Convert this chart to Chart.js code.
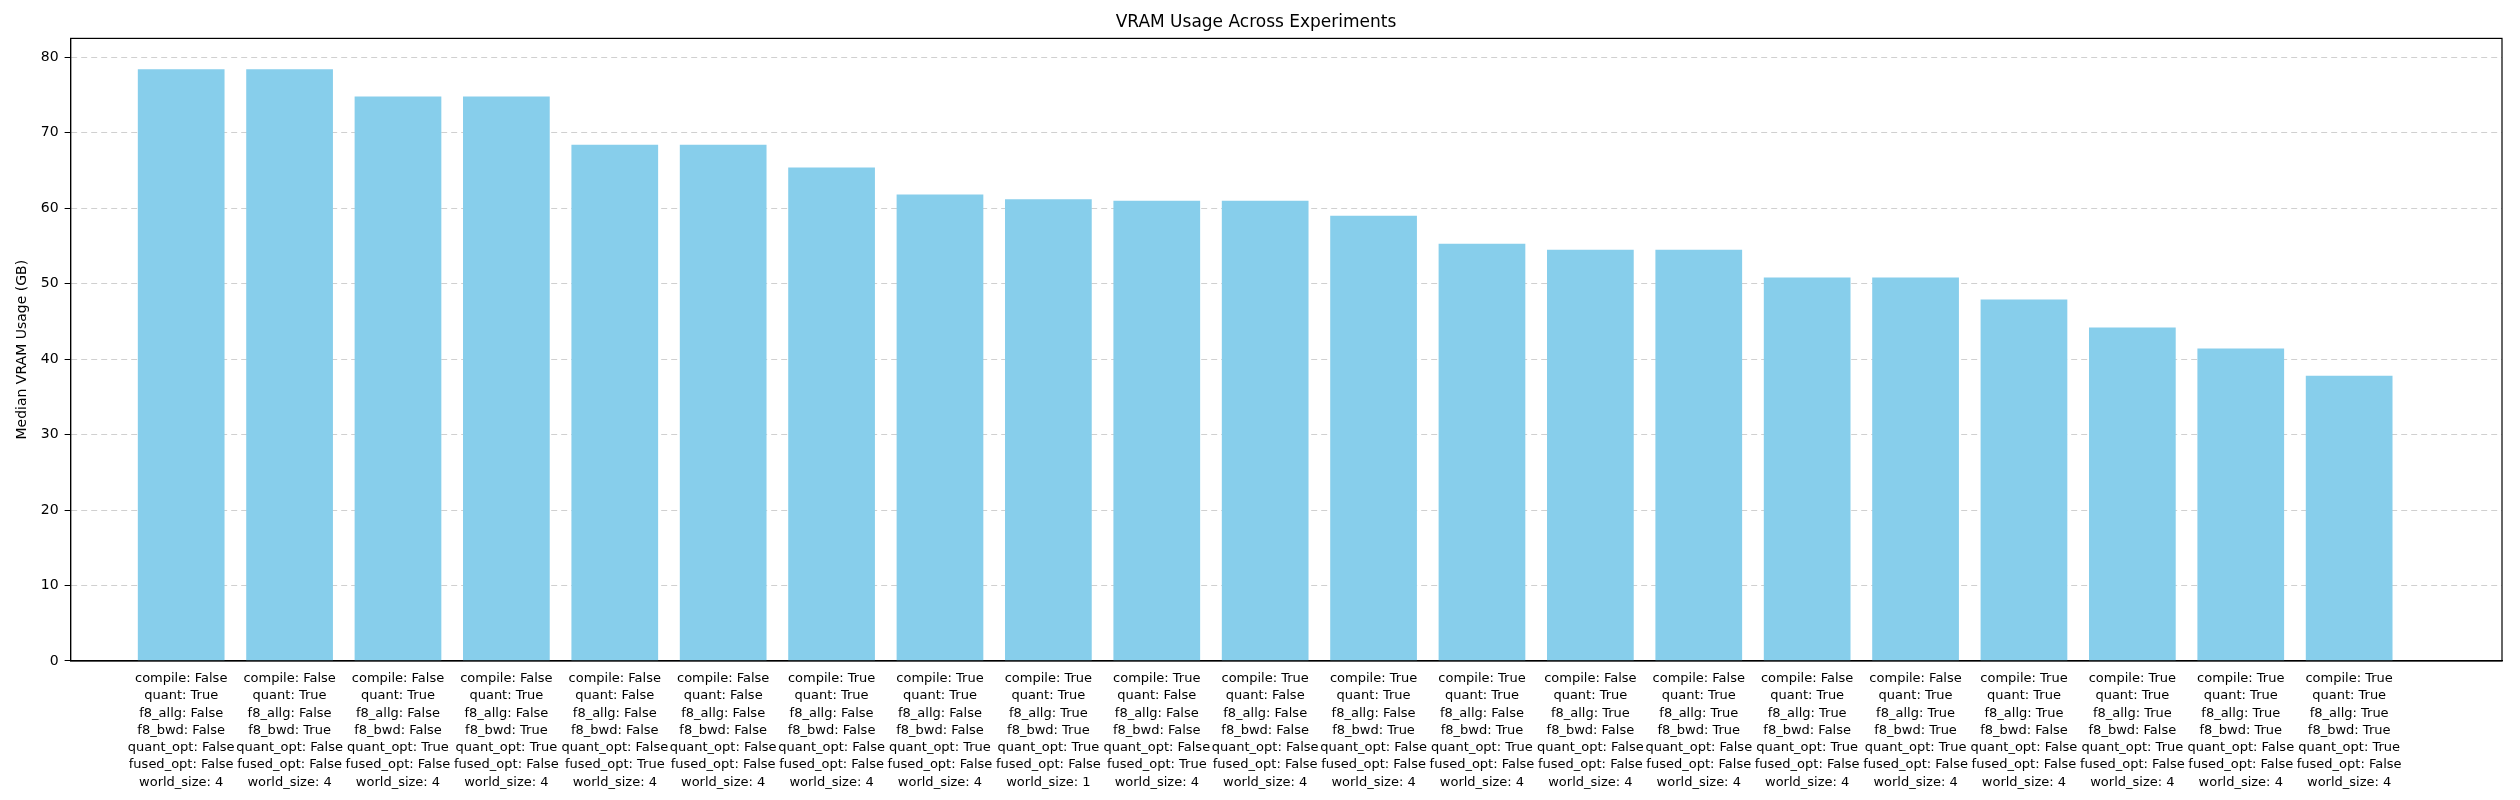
<!DOCTYPE html>
<html><head><meta charset="utf-8">
<script src="https://cdn.jsdelivr.net/npm/chart.js@4/dist/chart.umd.min.js"></script>
<style>html,body{margin:0;padding:0;background:#fff}#w{width:2520px;height:800px}</style>
</head><body><div id="w"><canvas id="c"></canvas></div>
<script>
const compile   = ["False","False","False","False","False","False","True","True","True","True","True","True","True","False","False","False","False","True","True","True","True"];
const quant     = ["True","True","True","True","False","False","True","True","True","False","False","True","True","True","True","True","True","True","True","True","True"];
const f8Allg    = ["False","False","False","False","False","False","False","False","True","False","False","False","False","True","True","True","True","True","True","True","True"];
const f8Bwd     = ["False","True","False","True","False","False","False","False","True","False","False","True","True","False","True","False","True","False","False","True","True"];
const quantOpt  = ["False","False","True","True","False","False","False","True","True","False","False","False","True","False","False","True","True","False","True","False","True"];
const fusedOpt  = ["False","False","False","False","True","False","False","False","False","True","False","False","False","False","False","False","False","False","False","False","False"];
const worldSize = ["4","4","4","4","4","4","4","4","1","4","4","4","4","4","4","4","4","4","4","4","4"];
const vram = [78.4,78.4,74.8,74.8,68.4,68.4,65.4,61.8,61.2,61.0,61.0,59.0,55.3,54.5,54.5,50.8,50.8,47.9,44.2,41.4,37.8];
const yTicks = [0,10,20,30,40,50,60,70,80];

const labels = vram.map((_, i) => [
  "compile: " + compile[i], "quant: " + quant[i], "f8_allg: " + f8Allg[i], "f8_bwd: " + f8Bwd[i],
  "quant_opt: " + quantOpt[i], "fused_opt: " + fusedOpt[i], "world_size: " + worldSize[i]
]);
const F = "'DejaVu Sans', sans-serif";
new Chart(document.getElementById('c'), {
  type: 'bar',
  data: { datasets: [{ data: vram.map((v, i) => ({x: i, y: v})), backgroundColor: '#87CEEB', barPercentage: 0.8, categoryPercentage: 1 }] },
  options: {
    responsive: true, maintainAspectRatio: false, animation: false,
    layout: { padding: { top: 8, right: 18, left: 10, bottom: 6 } },
    plugins: {
      legend: { display: false }, tooltip: { enabled: false },
      title: { display: true, text: 'VRAM Usage Across Experiments', font: { family: F, size: 17, weight: 'normal' }, color: '#000', padding: { top: 4, bottom: 6 } }
    },
    scales: {
      x: {
        type: 'linear', min: -1.02, max: 21.41, offset: false,
        afterBuildTicks: a => { a.ticks = labels.map((_, i) => ({ value: i })); },
        ticks: { autoSkip: false, maxRotation: 0, minRotation: 0, color: '#000', font: { family: F, size: 13, lineHeight: 1.33 }, callback: (v) => labels[v] || '' },
        grid: { display: false, drawTicks: true, tickLength: 6, color: '#000' },
        border: { display: true, color: '#000', width: 1.2 }
      },
      y: {
        min: 0, max: 82.5,
        afterBuildTicks: a => { a.ticks = yTicks.map(v => ({ value: v })); },
        ticks: { color: '#000', font: { family: F, size: 14 }, padding: 6 },
        grid: { color: '#d0d0d0', tickLength: 6, tickColor: '#000', tickBorderDash: [0] },
        border: { display: true, color: '#000', width: 1.2, dash: [6, 4] },
        title: { display: true, text: 'Median VRAM Usage (GB)', color: '#000', font: { family: F, size: 14 } }
      }
    }
  },
  plugins: [{
    id: 'frame',
    afterDraw(ch) {
      const { ctx, chartArea: a } = ch;
      ctx.save(); ctx.strokeStyle = '#000'; ctx.lineWidth = 1.2;
      ctx.strokeRect(a.left, a.top, a.right - a.left, a.bottom - a.top); ctx.restore();
    }
  }]
});
</script></body></html>
